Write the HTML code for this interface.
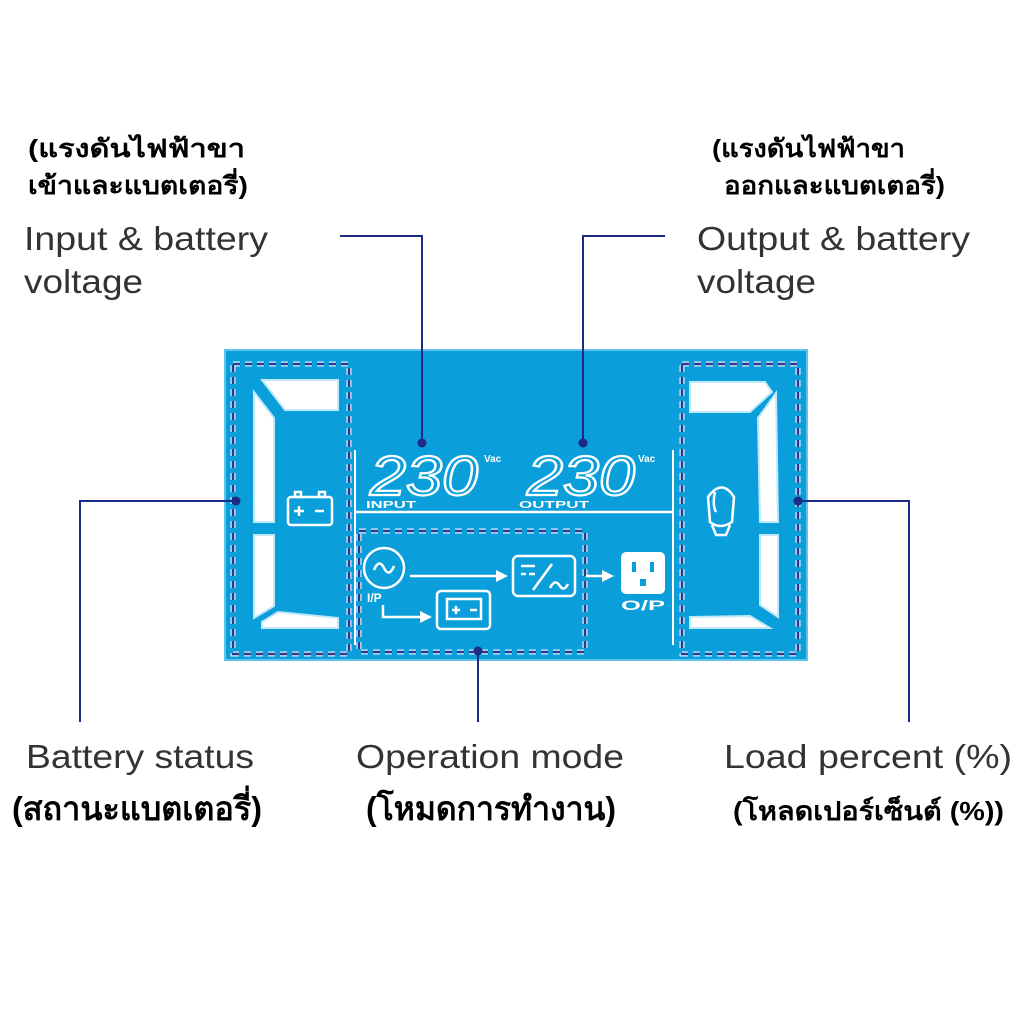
<!DOCTYPE html>
<html><head><meta charset="utf-8"><style>
html,body{margin:0;padding:0;background:#fff;width:1024px;height:1024px;overflow:hidden}
svg{display:block}
.en{font-family:"Liberation Sans",sans-serif;fill:#333;font-size:33px}
.th{font-family:"Liberation Sans","DejaVu Sans",sans-serif;fill:#000;font-weight:bold}
.w{fill:none;stroke:#fff;stroke-width:2.5}
.dash{fill:none;stroke:#2a3b8f;stroke-width:2.5;stroke-dasharray:7 5}
.dashw{fill:none;stroke:#dff3fc;stroke-width:5;stroke-dasharray:7 5}
.con{fill:none;stroke:#1c2a85;stroke-width:2}
.seg{font-family:"Liberation Sans",sans-serif;font-style:italic;font-size:56px;fill:none;stroke:#fff;stroke-width:2.2}
.sm{font-family:"Liberation Sans",sans-serif;font-weight:bold;fill:#fff}
</style></head><body>
<svg width="1024" height="1024" viewBox="0 0 1024 1024">
<!-- top labels -->
<text class="th" x="28" y="157" font-size="25" textLength="217" lengthAdjust="spacingAndGlyphs">(แรงดันไฟฟ้าขา</text>
<text class="th" x="28" y="194" font-size="25" textLength="220" lengthAdjust="spacingAndGlyphs">เข้าและแบตเตอรี่)</text>
<text class="en" x="24" y="250" textLength="244" lengthAdjust="spacingAndGlyphs">Input &amp; battery</text>
<text class="en" x="24" y="293" textLength="119" lengthAdjust="spacingAndGlyphs">voltage</text>
<text class="th" x="712" y="157" font-size="25" textLength="193" lengthAdjust="spacingAndGlyphs">(แรงดันไฟฟ้าขา</text>
<text class="th" x="724" y="194" font-size="25" textLength="221" lengthAdjust="spacingAndGlyphs">ออกและแบตเตอรี่)</text>
<text class="en" x="697" y="250" textLength="273" lengthAdjust="spacingAndGlyphs">Output &amp; battery</text>
<text class="en" x="697" y="293" textLength="119" lengthAdjust="spacingAndGlyphs">voltage</text>

<!-- panel -->
<rect x="224" y="349" width="584" height="312" fill="#0a9edb"/>
<rect x="225" y="350" width="582" height="310" fill="none" stroke="#5fc3ec" stroke-width="2"/>
<!-- dashed boxes -->
<rect x="233" y="364" width="116" height="290" class="dashw"/>
<rect x="233" y="364" width="116" height="290" class="dash"/>
<rect x="359" y="531" width="226" height="121" class="dashw"/>
<rect x="359" y="531" width="226" height="121" class="dash"/>
<rect x="682" y="364" width="116" height="290" class="dashw"/>
<rect x="682" y="364" width="116" height="290" class="dash"/>

<!-- left gauge -->
<path d="M262 380 L338 380 L338 410 L285 410 Z" fill="#fff" stroke="#bfe9fa" stroke-width="2"/>
<path d="M254 392 L274 418 L274 522 L254 522 Z" fill="#fff" stroke="#bfe9fa" stroke-width="2"/>
<path d="M254 535 L274 535 L274 606 L254 618 Z" fill="#fff" stroke="#bfe9fa" stroke-width="2"/>
<path d="M262 622 L278 612 L338 618 L338 628 L262 628 Z" fill="#fff" stroke="#bfe9fa" stroke-width="2"/>
<!-- battery icon -->
<rect x="288" y="497" width="44" height="28" rx="3" class="w"/>
<rect x="295" y="492" width="6" height="5" class="w"/>
<rect x="319" y="492" width="6" height="5" class="w"/>
<path d="M294 511 h10 M299 506 v10 M315 511 h9" class="w"/>

<!-- right gauge -->
<path d="M690 382 L765 382 L772 392 L750 412 L690 412 Z" fill="#fff" stroke="#bfe9fa" stroke-width="2"/>
<path d="M776 393 L778 522 L760 522 L758 418 Z" fill="#fff" stroke="#bfe9fa" stroke-width="2"/>
<path d="M760 535 L778 535 L778 617 L760 605 Z" fill="#fff" stroke="#bfe9fa" stroke-width="2"/>
<path d="M690 617 L750 616 L770 628 L690 628 Z" fill="#fff" stroke="#bfe9fa" stroke-width="2"/>
<!-- load icon -->
<path d="M708 497 Q722 478 734 497 L732 522 Q720 530 710 522 Z" class="w"/>
<path d="M715 492 Q712 505 716 512" class="w"/>
<path d="M712 525 L716 535 L726 535 L730 525" class="w"/>

<!-- vertical separators & horizontal line -->
<line x1="355" y1="450" x2="355" y2="645" stroke="#fff" stroke-width="2"/>
<line x1="673" y1="450" x2="673" y2="645" stroke="#fff" stroke-width="2"/>
<line x1="355" y1="512" x2="673" y2="512" stroke="#fff" stroke-width="2.5"/>

<!-- digits -->
<text class="seg" x="370" y="495" textLength="108" lengthAdjust="spacingAndGlyphs">230</text>
<text class="sm" x="484" y="462" font-size="10">Vac</text>
<text class="sm" x="366" y="508" font-size="10" textLength="50" lengthAdjust="spacingAndGlyphs">INPUT</text>
<text class="seg" x="527" y="495" textLength="108" lengthAdjust="spacingAndGlyphs">230</text>
<text class="sm" x="638" y="462" font-size="10">Vac</text>
<text class="sm" x="519" y="508" font-size="10" textLength="70" lengthAdjust="spacingAndGlyphs">OUTPUT</text>

<!-- op mode -->
<circle cx="384" cy="568" r="20" class="w"/>
<path d="M374 570 Q379 558 384 568 Q389 578 394 566" class="w"/>
<text class="sm" x="367" y="602" font-size="12">I/P</text>
<path d="M410 576 H496" class="w"/><path d="M496 570 L508 576 L496 582 Z" fill="#fff"/>
<path d="M383 605 V617 H420" class="w"/><path d="M420 611 L432 617 L420 623 Z" fill="#fff"/>
<rect x="437" y="591" width="53" height="38" rx="4" class="w"/>
<rect x="447" y="599" width="34" height="20" class="w" stroke-width="1.8"/>
<path d="M452 610 h8 M456 606 v8 M470 610 h7" class="w" stroke-width="1.8"/>
<rect x="513" y="556" width="62" height="40" rx="5" class="w"/>
<path d="M521 566 h14 M521 574 h5 M529 574 h6 M533 590 L552 564 M550 588 Q555 578 560 586 Q564 592 568 584" class="w" stroke-width="2"/>
<path d="M586 576 H602" class="w"/><path d="M602 570 L614 576 L602 582 Z" fill="#fff"/>
<rect x="621" y="552" width="44" height="42" rx="5" fill="#fff"/>
<rect x="632" y="562" width="4" height="10" fill="#0a9edb"/>
<rect x="650" y="562" width="4" height="10" fill="#0a9edb"/>
<rect x="640" y="579" width="6" height="7" fill="#0a9edb"/>
<text class="sm" x="621" y="610" font-size="14" textLength="44" lengthAdjust="spacingAndGlyphs">O/P</text>

<!-- connectors -->
<path d="M340 236 H422 V443" class="con"/><circle cx="422" cy="443" r="4.5" fill="#1c2a85"/>
<path d="M665 236 H583 V443" class="con"/><circle cx="583" cy="443" r="4.5" fill="#1c2a85"/>
<path d="M236 501 H80 V722" class="con"/><circle cx="236" cy="501" r="4.5" fill="#1c2a85"/>
<path d="M798 501 H909 V722" class="con"/><circle cx="798" cy="501" r="4.5" fill="#1c2a85"/>
<path d="M478 651 V722" class="con"/><circle cx="478" cy="651" r="4.5" fill="#1c2a85"/>

<!-- bottom labels -->
<text class="en" x="26" y="768" textLength="228" lengthAdjust="spacingAndGlyphs">Battery status</text>
<text class="en" x="356" y="768" textLength="268" lengthAdjust="spacingAndGlyphs">Operation mode</text>
<text class="en" x="724" y="768" textLength="288" lengthAdjust="spacingAndGlyphs">Load percent (%)</text>
<text class="th" x="12" y="820" font-size="33" textLength="250" lengthAdjust="spacingAndGlyphs">(สถานะแบตเตอรี่)</text>
<text class="th" x="366" y="820" font-size="33" textLength="250" lengthAdjust="spacingAndGlyphs">(โหมดการทำงาน)</text>
<text class="th" x="733" y="820" font-size="26" textLength="271" lengthAdjust="spacingAndGlyphs">(โหลดเปอร์เซ็นต์ (%))</text>
</svg>
</body></html>
